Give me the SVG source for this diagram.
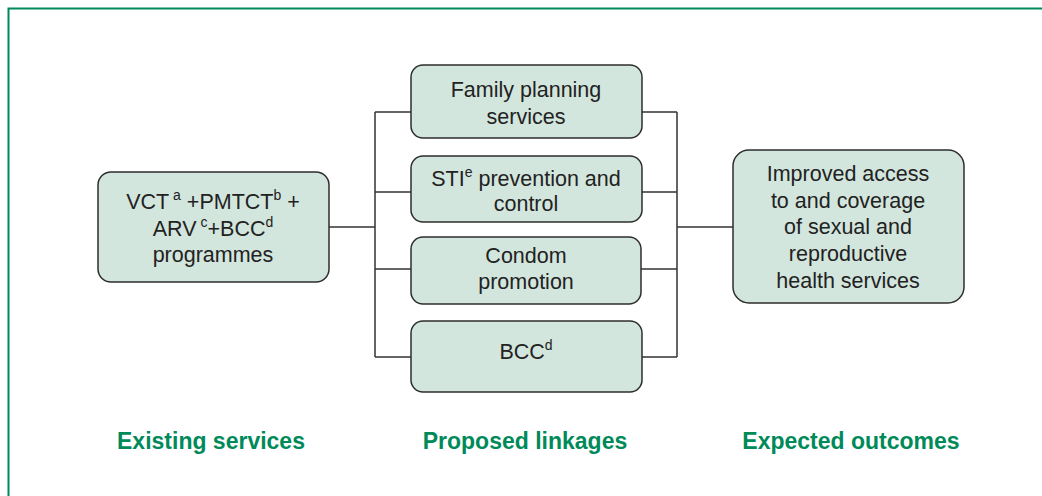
<svg xmlns="http://www.w3.org/2000/svg" width="1042" height="496" viewBox="0 0 1042 496">
<style>
.box{fill:#d3e6dd;stroke:#2e2e2e;stroke-width:1.5}
.t{font-family:"Liberation Sans",Arial,sans-serif;font-size:21.5px;fill:#222;text-anchor:middle}
.sup{font-size:14px}
.h{font-family:"Liberation Sans",Arial,sans-serif;font-size:23px;font-weight:bold;fill:#008a5a;text-anchor:middle}
.c{fill:none;stroke:#333;stroke-width:1.5}
</style>
<rect width="1042" height="496" fill="#fff"/>
<path d="M8.5,496 V8.5 H1042" fill="none" stroke="#008a5a" stroke-width="2"/>
<g id="connectors">
<path class="c" d="M329,227 H375 M375,112 V357 M375,112 H411 M375,192 H411 M375,269 H411 M375,357 H411"/>
<path class="c" d="M641,112 H677 M641,192 H677 M641,269 H677 M641,357 H677 M677,112 V357 M677,227 H733"/>
</g>
<g id="existing">
<rect class="box" x="98" y="172" width="231" height="110" rx="13"/>
<text class="t" x="213" y="209">VCT<tspan class="sup" dy="-9"> a</tspan><tspan dy="9"> +PMTCT</tspan><tspan class="sup" dy="-9">b</tspan><tspan dy="9"> +</tspan></text>
<text class="t" x="213" y="236">ARV<tspan class="sup" dy="-9"> c</tspan><tspan dy="9">+BCC</tspan><tspan class="sup" dy="-9">d</tspan></text>
<text class="t" x="213" y="262">programmes</text>
</g>
<g id="family">
<rect class="box" x="411" y="65" width="231" height="73" rx="12"/>
<text class="t" x="526" y="97">Family planning</text>
<text class="t" x="526" y="124">services</text>
</g>
<g id="sti">
<rect class="box" x="411" y="156" width="231" height="66" rx="12"/>
<text class="t" x="526" y="186">STI<tspan class="sup" dy="-9">e</tspan><tspan dy="9"> prevention and</tspan></text>
<text class="t" x="526" y="211">control</text>
</g>
<g id="condom">
<rect class="box" x="411" y="237" width="230" height="67" rx="12"/>
<text class="t" x="526" y="263">Condom</text>
<text class="t" x="526" y="289">promotion</text>
</g>
<g id="bcc">
<rect class="box" x="411" y="321" width="231" height="71" rx="12"/>
<text class="t" x="526" y="359">BCC<tspan class="sup" dy="-9">d</tspan></text>
</g>
<g id="outcome">
<rect class="box" x="733" y="150" width="231" height="153" rx="16"/>
<text class="t" x="848" y="181">Improved access</text>
<text class="t" x="848" y="208">to and coverage</text>
<text class="t" x="848" y="234">of sexual and</text>
<text class="t" x="848" y="261">reproductive</text>
<text class="t" x="848" y="288">health services</text>
</g>
<g id="labels">
<text class="h" x="211" y="449">Existing services</text>
<text class="h" x="525" y="449">Proposed linkages</text>
<text class="h" x="851" y="449">Expected outcomes</text>
</g>
</svg>
